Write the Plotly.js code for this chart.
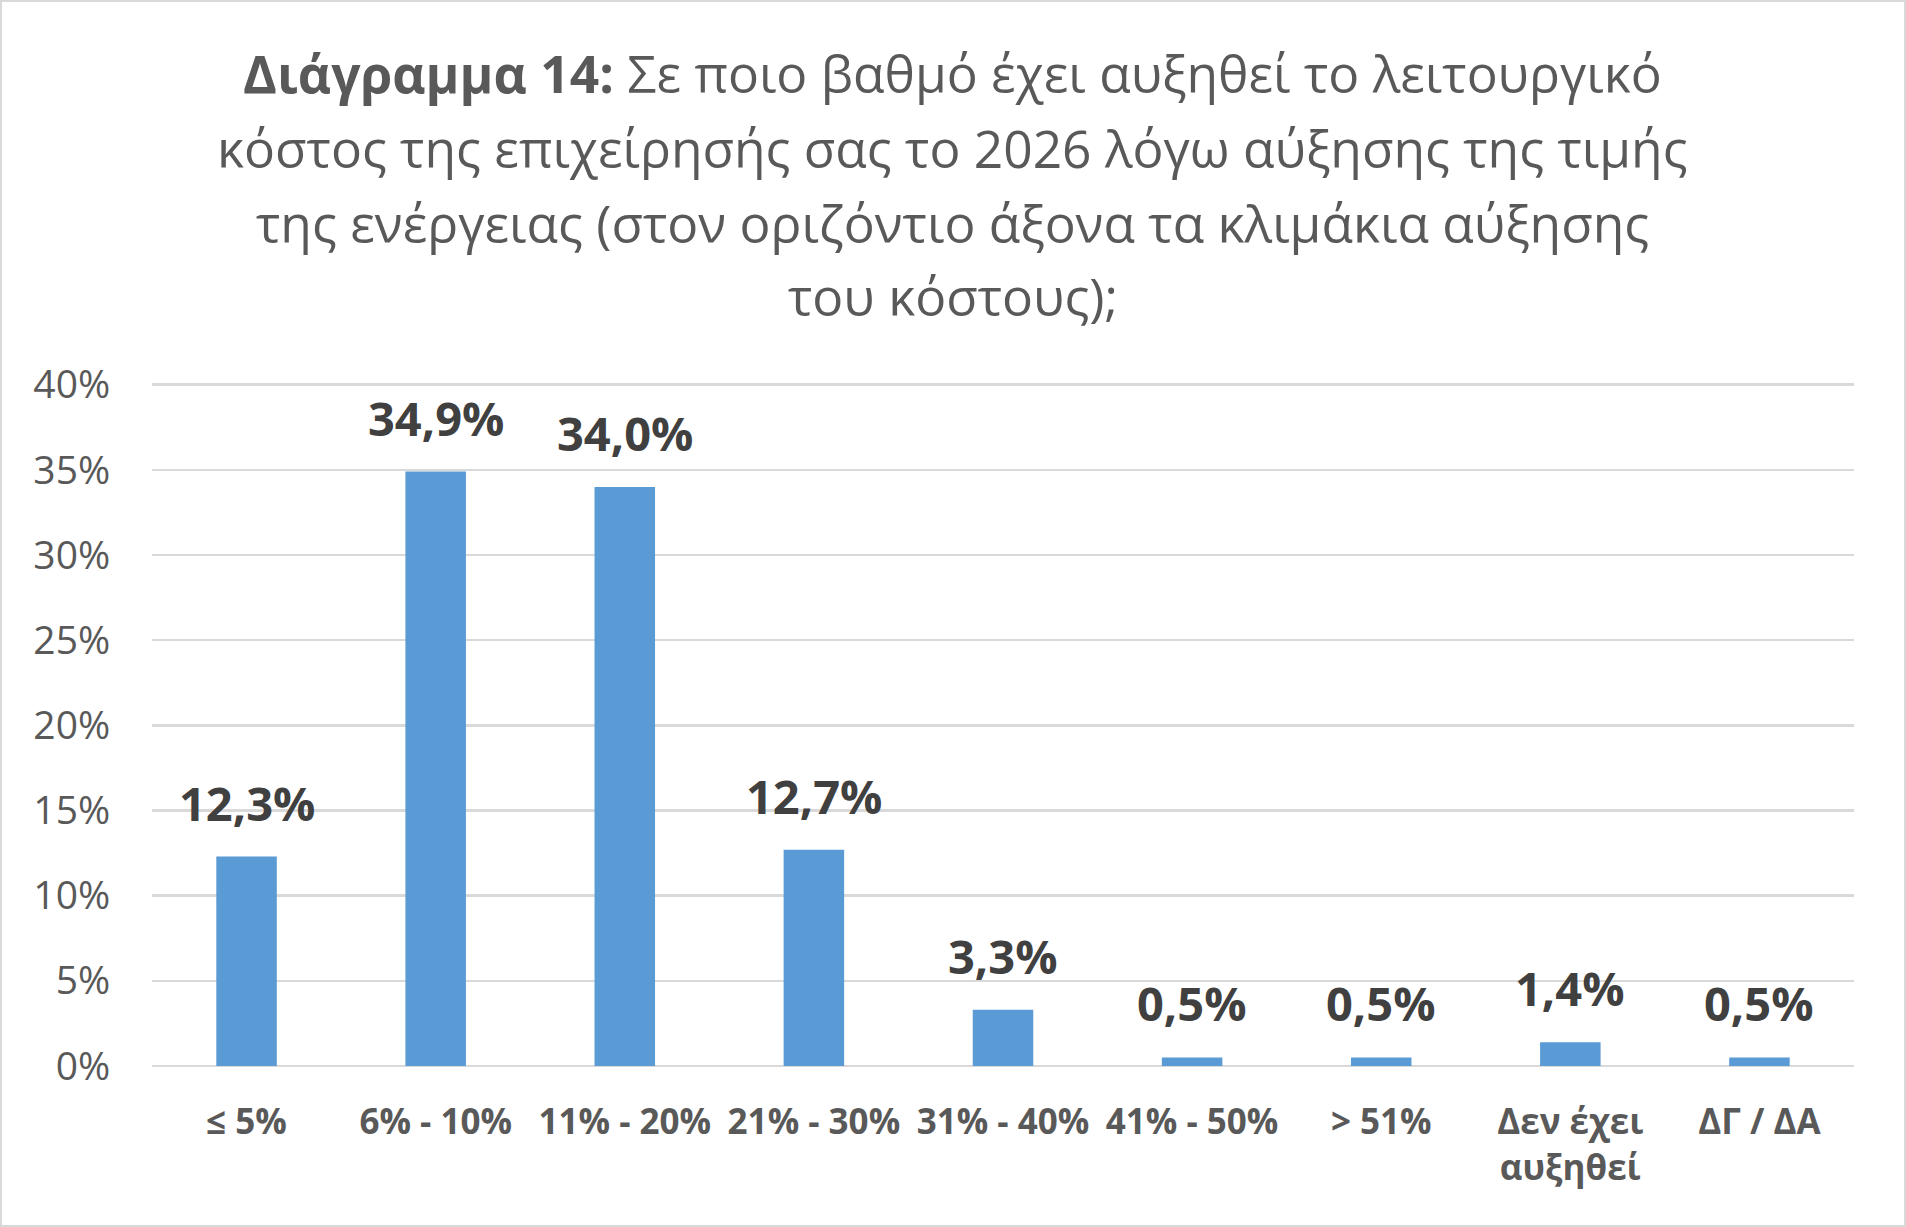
<!DOCTYPE html>
<html>
<head>
<meta charset="utf-8">
<script src="https://cdn.plot.ly/plotly-3.0.1.min.js"></script>
<style>
  body { margin: 0; background: #fff; }
  #wrap { position: relative; width: 1906px; height: 1227px; }
  #frame { position: absolute; left: 0; top: 0; right: 0; bottom: 0; border: 2px solid #d9d9d9; pointer-events: none; }
</style>
</head>
<body>
<div id="wrap">
  <div id="plot"></div>
  <div id="frame"></div>
</div>
<script>
// chart data
var categories = ['≤ 5%', '6% - 10%', '11% - 20%', '21% - 30%', '31% - 40%', '41% - 50%', '> 51%', 'Δεν έχει<br>αυξηθεί', 'ΔΓ / ΔΑ'];
var values = [12.3, 34.9, 34.0, 12.7, 3.3, 0.5, 0.5, 1.4, 0.5];
var yTicks = [0, 5, 10, 15, 20, 25, 30, 35, 40];
var titleLines = [
  '<b>Διάγραμμα 14:</b> Σε ποιο βαθμό έχει αυξηθεί το λειτουργικό',
  'κόστος της επιχείρησής σας το 2026 λόγω αύξησης της τιμής',
  'της ενέργειας (στον οριζόντιο άξονα τα κλιμάκια αύξησης',
  'του κόστους);'
];

var font = 'Open Sans, Noto Sans, sans-serif';

// bar trace
var trace1 = {
  x: categories,
  y: values,
  type: 'bar',
  marker: { color: '#5B9BD5' },
  hoverinfo: 'none'
};

// value labels above the bars
var annotations = values.map(function (v, i) {
  return {
    x: categories[i],
    y: v,
    xref: 'x',
    yref: 'y',
    text: v.toFixed(1).replace('.', ',') + '%',
    showarrow: false,
    yanchor: 'bottom',
    yshift: 20,
    font: { family: font, size: 47, color: '#404040', weight: 'bold' }
  };
});

// title lines, each placed on its own so the line spacing matches
var titleY = [1.4537, 1.3436, 1.2349, 1.1278];
titleLines.forEach(function (line, i) {
  annotations.push({
    x: 0.4706,
    y: titleY[i],
    xref: 'paper',
    yref: 'paper',
    text: line,
    showarrow: false,
    xanchor: 'center',
    yanchor: 'middle',
    font: { family: font, size: 51.5, color: '#595959' }
  });
});

var layout = {
  width: 1906,
  height: 1227,
  margin: { l: 152, r: 52, t: 383, b: 161 },
  paper_bgcolor: '#ffffff',
  plot_bgcolor: '#ffffff',
  showlegend: false,
  bargap: 0.68,
  xaxis: {
    tickangle: 0,
    ticks: 'outside',
    ticklen: 25,
    tickcolor: 'rgba(0,0,0,0)',
    showgrid: false,
    showline: false,
    tickfont: { family: font, size: 35, color: '#595959', weight: 'bold' }
  },
  yaxis: {
    range: [0, 40.1],
    tickmode: 'array',
    tickvals: yTicks,
    ticktext: yTicks.map(function (t) { return t + '%'; }),
    ticks: 'outside',
    ticklen: 33,
    tickcolor: 'rgba(0,0,0,0)',
    showgrid: true,
    gridcolor: '#d9d9d9',
    gridwidth: 2.5,
    zeroline: true,
    zerolinecolor: '#d9d9d9',
    zerolinewidth: 2.5,
    showline: false,
    tickfont: { family: font, size: 39, color: '#595959' }
  },
  annotations: annotations
};

Plotly.newPlot('plot', [trace1], layout, { staticPlot: true });
</script>
</body>
</html>
